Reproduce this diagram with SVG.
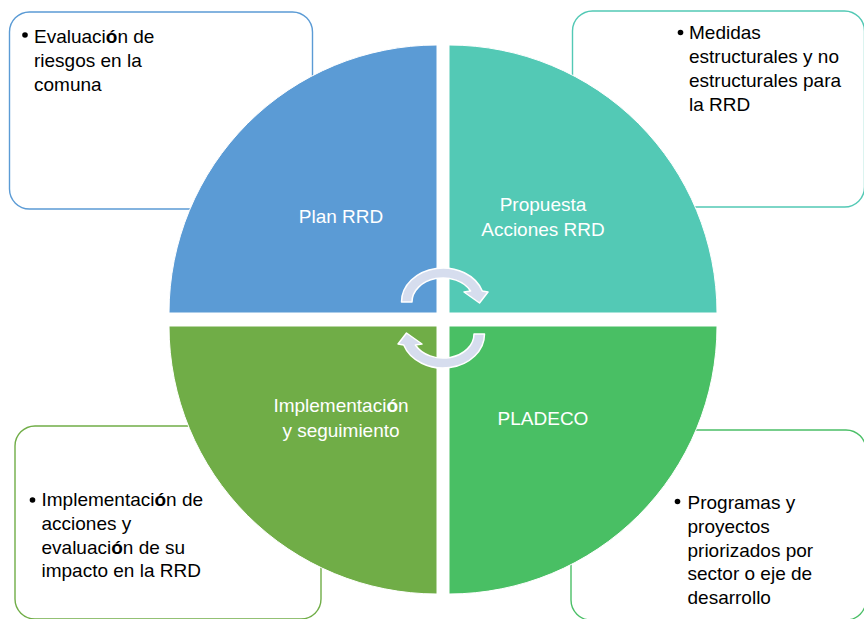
<svg xmlns="http://www.w3.org/2000/svg" width="864" height="619" viewBox="0 0 864 619">
<style>
.box{fill:#fff;stroke-width:1.4}
.t{font-family:"Liberation Sans",Arial,sans-serif;font-size:19px;fill:#000}
.w{font-family:"Liberation Sans",Arial,sans-serif;font-size:19px;fill:#fff;text-anchor:middle}
.q{stroke:#fff;stroke-width:1}
.arr{fill:#D6DDEE;stroke:#fff;stroke-width:1.5;stroke-linejoin:round}
.b{font-weight:bold}
</style>
<rect width="864" height="619" fill="#fff"/>
<g id="box-tl">
<rect class="box" x="9.5" y="12" width="303" height="197" rx="20" stroke="#5B9BD5"/>
<circle cx="25" cy="35" r="2.8"/>
<text class="t"><tspan x="34" y="43">Evaluaci<tspan class="b">ó</tspan>n de</tspan><tspan x="34" y="67">riesgos en la</tspan><tspan x="34" y="91">comuna</tspan></text>
</g>
<g id="box-tr">
<rect class="box" x="572.5" y="11" width="292" height="196" rx="20" stroke="#53C9B5"/>
<circle cx="680.5" cy="32.5" r="2.8"/>
<text class="t"><tspan x="689" y="39">Medidas</tspan><tspan x="689" y="63">estructurales y no</tspan><tspan x="689" y="87">estructurales para</tspan><tspan x="689" y="111">la RRD</tspan></text>
</g>
<g id="box-bl">
<rect class="box" x="15" y="426" width="306" height="193" rx="20" stroke="#70AD47"/>
<circle cx="32.5" cy="500" r="2.8"/>
<text class="t"><tspan x="41.5" y="506">Implementaci<tspan class="b">ó</tspan>n de</tspan><tspan x="41.5" y="530">acciones y</tspan><tspan x="41.5" y="554">evaluaci<tspan class="b">ó</tspan>n de su</tspan><tspan x="41.5" y="577">impacto en la RRD</tspan></text>
</g>
<g id="box-br">
<rect class="box" x="571" y="430" width="295" height="190" rx="20" stroke="#4BBF67"/>
<circle cx="677.5" cy="501.5" r="2.8"/>
<text class="t"><tspan x="687.5" y="509">Programas y</tspan><tspan x="687.5" y="533">proyectos</tspan><tspan x="687.5" y="557">priorizados por</tspan><tspan x="687.5" y="580">sector o eje de</tspan><tspan x="687.5" y="604">desarrollo</tspan></text>
</g>
<g id="q-plan">
<path class="q" d="M437,313 L169,313 A268,268 0 0 1 437,45 Z" fill="#5B9BD5"/>
<text class="w" x="341" y="223">Plan RRD</text>
</g>
<g id="q-propuesta">
<path class="q" d="M449,313 L449,45 A268,268 0 0 1 717,313 Z" fill="#53C9B5"/>
<text class="w"><tspan x="543" y="211">Propuesta</tspan><tspan x="543" y="236">Acciones RRD</tspan></text>
</g>
<g id="q-impl">
<path class="q" d="M437,326 L437,594 A268,268 0 0 1 169,326 Z" fill="#70AD47"/>
<text class="w"><tspan x="341" y="412">Implementaci<tspan class="b">ó</tspan>n</tspan><tspan x="341" y="437">y seguimiento</tspan></text>
</g>
<g id="q-pladeco">
<path class="q" d="M449,326 L717,326 A268,268 0 0 1 449,594 Z" fill="#49BF64"/>
<text class="w" x="543" y="425">PLADECO</text>
</g>
<g id="connectors">
<path id="arrow-top" class="arr" d="M401.5,302 A41.5,34 0 0 1 482.3,291 L488,292 L479.5,303 L464,292 L470.6,291 A31,24 0 0 0 412,302 Z"/>
<use href="#arrow-top" transform="rotate(180 443 318)"/>
</g>
</svg>
